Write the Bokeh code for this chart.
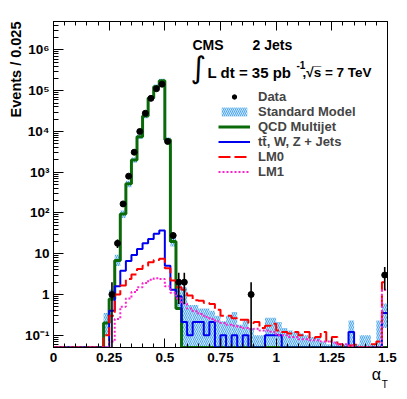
import math
from bokeh.plotting import figure
from bokeh.models import (FixedTicker, LinearAxis, Label, Legend, LegendItem, Range1d, Title)
from bokeh.embed import file_html
from bokeh.resources import INLINE

# ---------------- data (60 bins of 0.025 in alpha_T, 0 .. 1.5) ----------------
bin_width = 0.025
n_bins = 60

qcd = [0, 0, 0, 0, 0, 0, 0, 0, 0, 0.2,
       0.78, 6.8, 95, 520, 2000, 7400, 24000, 66000, 126000, 176000,
       6300, 20, 0.45, 0, 0, 0, 0, 0, 0, 0,
       0, 0, 0, 0, 0, 0, 0, 0, 0, 0,
       0, 0, 0, 0, 0, 0, 0, 0, 0, 0,
       0, 0, 0, 0, 0, 0, 0, 0, 0, 0]

ewk = [0, 0, 0, 0, 0, 0, 0, 0, 0, 0,
       0.4, 1.6, 3.8, 6.6, 9.3, 13, 18, 23, 31, 37,
       5.1, 1.3, 0.9, 0.21, 0.1, 0.21, 0.21, 0.1, 0.21, 0,
       0.1, 0, 0.1, 0, 0.1, 0, 0, 0, 0.1, 0.1,
       0.1, 0, 0, 0, 0, 0, 0, 0, 0, 0,
       0, 0, 0, 0.12, 0, 0, 0, 0, 0, 0.35]

lm0 = [0, 0, 0, 0, 0, 0, 0, 0, 0, 0.1,
       0.3, 1.0, 1.66, 2.4, 3.1, 4.2, 5.1, 6.2, 7.0, 7.5,
       4.4, 2.2, 1.5, 1.3, 0.95, 0.72, 0.7, 0.62, 0.58, 0.42,
       0.3, 0.3, 0.26, 0.24, 0.24, 0.2, 0.21, 0.15, 0.17, 0.19,
       0.13, 0.12, 0.11, 0.12, 0.1, 0.12, 0.085, 0.09, 0.12, 0.07,
       0.09, 0.06, 0, 0.056, 0.058, 0, 0, 0.06, 0.07, 2.0]

lm1 = [0, 0, 0, 0, 0, 0, 0, 0, 0, 0,
       0.07, 0.25, 0.5, 0.8, 1.15, 1.5, 1.9, 2.3, 2.5, 2.4,
       1.6, 1.1, 0.8, 0.6, 0.45, 0.39, 0.33, 0.28, 0.25, 0.22,
       0.2, 0.18, 0.17, 0.16, 0.15, 0.14, 0.145, 0.13, 0.13, 0.12,
       0.1, 0.1, 0.09, 0.09, 0.08, 0.08, 0.075, 0.075, 0.07, 0.07,
       0.065, 0.06, 0.06, 0.055, 0.05, 0, 0, 0, 0.05, 1.3]

data = [0, 0, 0, 0, 0, 0, 0, 0, 0, 0,
        1, 18, 167, 800, 3100, 10000, 28000, 65000, 112000, 145000,
        5700, 28, 2, 2, 0, 0, 0, 0, 0, 0,
        0, 0, 0, 0, 0, 1, 0, 0, 0, 0,
        0, 0, 0, 0, 0, 0, 0, 0, 0, 0,
        0, 0, 0, 0, 0, 0, 0, 0, 0, 3]

sm_lo = [0, 0, 0, 0, 0, 0, 0, 0, 0, 0.1,
         0.7, 5.0, 75, 430, 1700, 6500, 21000, 58000, 112000, 155000,
         5500, 15, 0.5, 0, 0, 0, 0, 0, 0, 0,
         0, 0, 0, 0, 0, 0, 0, 0, 0, 0,
         0, 0, 0, 0, 0, 0, 0, 0, 0, 0,
         0, 0, 0, 0, 0, 0, 0, 0, 0, 0.15]

sm_hi = [0, 0, 0, 0, 0, 0, 0, 0, 0, 0.35,
         1.3, 9.5, 115, 620, 2300, 8400, 27000, 74000, 142000, 198000,
         7100, 27, 2.0, 1.5, 0.55, 0.55, 0.45, 0.45, 0.4, 0.3,
         0.22, 0.3, 0.37, 0.18, 0.25, 0.15, 0.1, 0.1, 0.27, 0.27,
         0.21, 0.15, 0.13, 0.12, 0.11, 0.1, 0.09, 0.09, 0.07, 0.06,
         0.07, 0.06, 0.06, 0.23, 0.06, 0.1, 0.1, 0.06, 0.23, 0.6]

x_ticks = [0, 0.25, 0.5, 0.75, 1.0, 1.25, 1.5]
x_tick_labels = ["0", "0.25", "0.5", "0.75", "1", "1.25", "1.5"]
y_ticks = [0.1, 1, 10, 100, 1e3, 1e4, 1e5, 1e6]
y_tick_labels = ["10\u207b\u00b9", "1", "10", "10\u00b2", "10\u00b3", "10\u2074", "10\u2075", "10\u2076"]

# ---------------- geometry / style ----------------
XMIN, XMAX = 0.0, 1.5
YMIN, YMAX = 0.05, 5e6
FONT = "Liberation Sans"
FRAME_L, FRAME_T, FRAME_W, FRAME_H = 53, 21, 334, 326   # page pixels
NB = "\u00a0"

edges = [round(i * bin_width, 4) for i in range(n_bins + 1)]
centers = [round((i + 0.5) * bin_width, 4) for i in range(n_bins)]


def dx(px):
    return XMIN + (px - FRAME_L) / FRAME_W * (XMAX - XMIN)


def dy(py):
    lo, hi = math.log10(YMIN), math.log10(YMAX)
    return 10 ** (hi - (py - FRAME_T) / FRAME_H * (hi - lo))


p = figure(width=407, height=395, x_range=Range1d(XMIN, XMAX), y_range=Range1d(YMIN, YMAX),
           y_axis_type="log", output_backend="svg", toolbar_location=None,
           min_border_left=53, min_border_right=20, min_border_top=21, min_border_bottom=48)
p.grid.visible = False
p.outline_line_color = "black"
p.outline_line_width = 1
p.background_fill_color = "white"
p.border_fill_color = "white"

x_minor = [round(0.05 * i, 3) for i in range(31)]
y_minor = [m * 10 ** k for k in range(-2, 7) for m in range(2, 10) if YMIN <= m * 10 ** k <= YMAX]

xa = p.xaxis[0]
xa.ticker = FixedTicker(ticks=x_ticks, minor_ticks=x_minor)
xa.major_label_overrides = {t: l for t, l in zip(x_ticks, x_tick_labels)}
ya = p.yaxis[0]
ya.ticker = FixedTicker(ticks=y_ticks, minor_ticks=y_minor)
ya.major_label_overrides = {t: l for t, l in zip(y_ticks, y_tick_labels)}

for ax, maj, mnr in ((xa, 9, 4), (ya, 10, 5)):
    ax.major_tick_in = maj
    ax.major_tick_out = 0
    ax.minor_tick_in = mnr
    ax.minor_tick_out = 0
    ax.axis_line_color = "black"
    ax.major_tick_line_color = "black"
    ax.minor_tick_line_color = "black"
    ax.major_label_text_font = FONT
    ax.major_label_text_font_style = "bold"
    ax.major_label_text_font_size = "13.5px"
    ax.major_label_text_color = "black"
    ax.axis_label_text_color = "black"
xa.major_label_standoff = 5
ya.major_label_standoff = 4

# y axis title, aligned to the top end like ROOT
p.add_layout(Title(text="Events / 0.025", align="right", text_font=FONT, text_font_style="bold",
                   text_font_size="14.5px", text_color="black", standoff=-5, offset=0), "left")

# x axis title alpha_T at the right end
xa.axis_label = "\u03b1" + NB * 5
xa.axis_label_align = "end"
xa.axis_label_standoff = 1
xa.axis_label_text_font = FONT
xa.axis_label_text_font_style = "normal"
xa.axis_label_text_font_size = "16px"

sub = LinearAxis(ticker=FixedTicker(ticks=[]), axis_line_color=None,
                 major_tick_in=0, major_tick_out=0, minor_tick_in=0, minor_tick_out=0,
                 major_label_text_font_size="0px", major_label_standoff=0,
                 axis_label="T" + NB * 2, axis_label_align="end",
                 axis_label_standoff=-7,
                 axis_label_text_font=FONT, axis_label_text_font_style="normal",
                 axis_label_text_font_size="10px", axis_label_text_color="black")
p.add_layout(sub, "below")

top = LinearAxis(ticker=FixedTicker(ticks=x_ticks, minor_ticks=x_minor),
                 major_tick_in=9, major_tick_out=0, minor_tick_in=4, minor_tick_out=0,
                 major_label_overrides={t: "" for t in x_ticks},
                 major_label_text_font_size="0px", major_label_standoff=0,
                 axis_line_color="black")
p.add_layout(top, "above")


def at_floor(vals):
    return [max(v, YMIN) for v in vals]


def step_y(vals):
    v = at_floor(vals)
    return v + [v[-1]]


# SM uncertainty band (hatched)
band_l, band_r, band_b, band_t = [], [], [], []
for i in range(n_bins):
    if sm_hi[i] > 0:
        band_l.append(edges[i]); band_r.append(edges[i + 1])
        band_b.append(max(sm_lo[i], YMIN)); band_t.append(sm_hi[i])
r_sm = p.quad(left=band_l, right=band_r, bottom=band_b, top=band_t,
              fill_alpha=0, line_color=None,
              hatch_pattern="left_diagonal_line", hatch_color="#4aa6ee",
              hatch_scale=4, hatch_weight=1.2)

r_qcd = p.step(x=edges, y=step_y(qcd), mode="after", line_color="#0a6a0a", line_width=3)
r_ewk = p.step(x=edges, y=step_y(ewk), mode="after", line_color="#0000ee", line_width=2)
r_lm0 = p.step(x=edges, y=step_y(lm0), mode="after", line_color="#ff0000", line_width=2,
               line_dash="12 4")
r_lm1 = p.step(x=edges, y=step_y(lm1), mode="after", line_color="#ff22cc", line_width=2,
               line_dash="2 2")

dxs, dys, elo, ehi = [], [], [], []
for i in range(n_bins):
    n = data[i]
    if n > 0:
        e = math.sqrt(n)
        dxs.append(centers[i]); dys.append(n)
        elo.append(max(n - e, YMIN)); ehi.append(n + e)
p.segment(x0=dxs, y0=elo, x1=dxs, y1=ehi, line_color="black", line_width=1.6)
r_data = p.scatter(x=dxs, y=dys, size=6, color="black")

legend = Legend(items=[
    LegendItem(label="Data", renderers=[r_data]),
    LegendItem(label="Standard Model", renderers=[r_sm]),
    LegendItem(label="QCD Multijet", renderers=[r_qcd]),
    LegendItem(label="tt\u0304, W, Z + Jets", renderers=[r_ewk]),
    LegendItem(label="LM0", renderers=[r_lm0]),
    LegendItem(label="LM1", renderers=[r_lm1]),
], location=(165, 168))
legend.label_text_font = FONT
legend.label_text_font_style = "bold"
legend.label_text_font_size = "13px"
legend.glyph_width = 32
legend.glyph_height = 11
legend.label_height = 11
legend.spacing = 0
legend.padding = 0
legend.margin = 0
legend.label_standoff = 8
legend.border_line_color = None
legend.background_fill_alpha = 0
p.add_layout(legend)


def lab(px, py, text, size, align="left", baseline="alphabetic", style="bold", font=FONT):
    p.add_layout(Label(x=dx(px), y=dy(py), text=text, text_font=font, text_font_style=style,
                       text_font_size=size, text_align=align, text_baseline=baseline,
                       text_color="black"))


lab(192, 44, "CMS", "14px")
lab(252, 44, "2 Jets", "14px")
lab(190, 67, "\u222b", "30px", style="normal", font="DejaVu Sans")
lab(207, 72, "L dt = 35 pb", "15px")
lab(296, 64, "-1", "10px")
lab(302, 72, ",\u221as\u0305 = 7 TeV", "13.5px")

open("out.html", "w").write(file_html(p, INLINE))
